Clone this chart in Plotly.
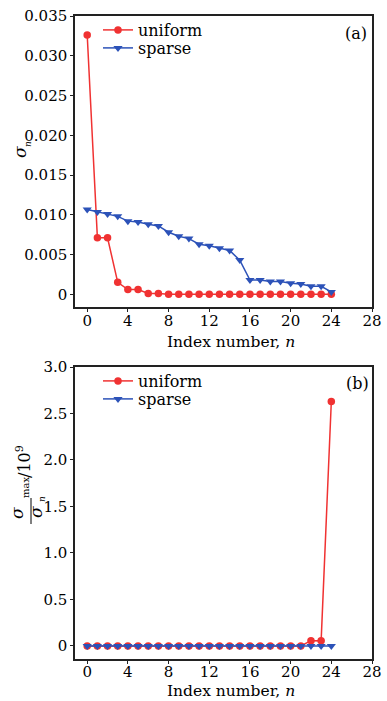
import plotly.graph_objects as go

n_index = list(range(25))
uniform_a = [0.0326, 0.0071, 0.0071, 0.0015, 0.0006, 0.0006, 0.0001, 0.0001] + [0.0] * 17
sparse_a = [0.01066, 0.01036, 0.0101, 0.0098, 0.0092, 0.0091, 0.0088, 0.0086, 0.0078,
            0.0073, 0.0070, 0.0063, 0.0061, 0.0058, 0.0055, 0.0043, 0.0018, 0.0018,
            0.0016, 0.0016, 0.0014, 0.0013, 0.0010, 0.0010, 0.0003]
uniform_b = [0.0] * 22 + [0.057, 0.055, 2.63]
sparse_b = [0.0] * 25
x_ticks = [0, 4, 8, 12, 16, 20, 24, 28]
ya_ticks = [0, 0.005, 0.010, 0.015, 0.020, 0.025, 0.030, 0.035]
ya_labels = ["0", "0.005", "0.010", "0.015", "0.020", "0.025", "0.030", "0.035"]
yb_ticks = [0, 0.5, 1.0, 1.5, 2.0, 2.5, 3.0]
yb_labels = ["0", "0.5", "1.0", "1.5", "2.0", "2.5", "3.0"]

RED = "#f03232"
BLUE = "#2c52b8"
FONT = "DejaVu Serif"

W, H = 387, 701
ML, MR, MT, MB = 75, 15, 16, 42
PW, PH = W - ML - MR, H - MT - MB


def px(xp):
    return (xp - ML) / PW


def py(yp):
    return (H - MB - yp) / PH


def line_style(color, symbol, size):
    return dict(line=dict(color=color, width=1.5), marker=dict(symbol=symbol, size=size, color=color))


fig = go.Figure()
fig.add_trace(go.Scatter(x=n_index, y=uniform_a, mode="lines+markers", name="uniform",
                         xaxis="x", yaxis="y", legend="legend", **line_style(RED, "circle", 7.5)))
fig.add_trace(go.Scatter(x=n_index, y=sparse_a, mode="lines+markers", name="sparse",
                         xaxis="x", yaxis="y", legend="legend2", **line_style(BLUE, "triangle-down", 8)))
fig.add_trace(go.Scatter(x=n_index, y=uniform_b, mode="lines+markers", name="uniform",
                         xaxis="x2", yaxis="y2", legend="legend3", **line_style(RED, "circle", 7.5)))
fig.add_trace(go.Scatter(x=n_index, y=sparse_b, mode="lines+markers", name="sparse",
                         xaxis="x2", yaxis="y2", legend="legend4", **line_style(BLUE, "triangle-down", 8)))

axis_common = dict(showgrid=False, zeroline=False, showline=True, linecolor="#222", linewidth=1.5,
                   mirror=True, ticks="outside", ticklen=3, tickcolor="#222", automargin=False,
                   tickfont=dict(family=FONT, size=15, color="black"))

top_lo, top_hi = py(307), py(16)
bot_lo, bot_hi = py(659), py(367)


def leg(xp, yp):
    return dict(x=px(xp), y=py(yp), xanchor="left", yanchor="middle", bgcolor="rgba(0,0,0,0)",
                font=dict(family=FONT, size=16, color="black"), itemwidth=30)


fig.update_layout(
    width=W, height=H, margin=dict(l=ML, r=MR, t=MT, b=MB),
    paper_bgcolor="white", plot_bgcolor="white",
    font=dict(family=FONT, color="black", size=16),
    xaxis=dict(domain=[0, 1], range=[-1.2, 28], tickvals=x_ticks, anchor="y",
               ticklabelstandoff=-4, **axis_common),
    yaxis=dict(domain=[top_lo, top_hi], range=[-0.0016, 0.035], tickvals=ya_ticks, ticktext=ya_labels,
               anchor="x", **axis_common),
    xaxis2=dict(domain=[0, 1], range=[-1.2, 28], tickvals=x_ticks, anchor="y2",
                ticklabelstandoff=-5, **axis_common),
    yaxis2=dict(domain=[bot_lo, bot_hi], range=[-0.14, 3.0], tickvals=yb_ticks, ticktext=yb_labels,
                anchor="x2", **axis_common),
    legend=leg(98, 30),
    legend2=leg(98, 48),
    legend3=leg(98, 381),
    legend4=leg(98, 399),
    showlegend=True,
)


def a(text, xp, yp, size=16, angle=0):
    return dict(text=text, x=px(xp), y=py(yp), xref="paper", yref="paper", showarrow=False,
                xanchor="center", yanchor="middle", textangle=angle,
                font=dict(family=FONT, size=size, color="black"))


ann = [
    a("(a)", 356, 33),
    a("(b)", 357, 383),
    a("Index number, <i>n</i>", 231, 342, 15.5),
    a("Index number, <i>n</i>", 231, 691, 15.5),
    # top y title
    a("<i>σ</i>", 20, 152, 17, -90),
    a("<i>n</i>", 28, 144, 9, -90),
    # bottom y title (fraction)
    a("<i>σ</i>", 17, 513, 17, -90),
    a("max", 25, 488, 10, -90),
    a("<i>σ</i>", 36, 512, 17, -90),
    a("<i>n</i>", 42, 499, 9, -90),
    a("/10<sup>9</sup>", 23, 462, 16, -90),
]
fig.update_layout(annotations=ann)
fig.add_shape(type="line", xref="paper", yref="paper", x0=px(31), x1=px(31), y0=py(498), y1=py(524),
              line=dict(color="black", width=1))

fig.write_html("out.html", config={"displayModeBar": False},
               post_script="document.body.style.margin='0';document.body.style.overflow='hidden';")
